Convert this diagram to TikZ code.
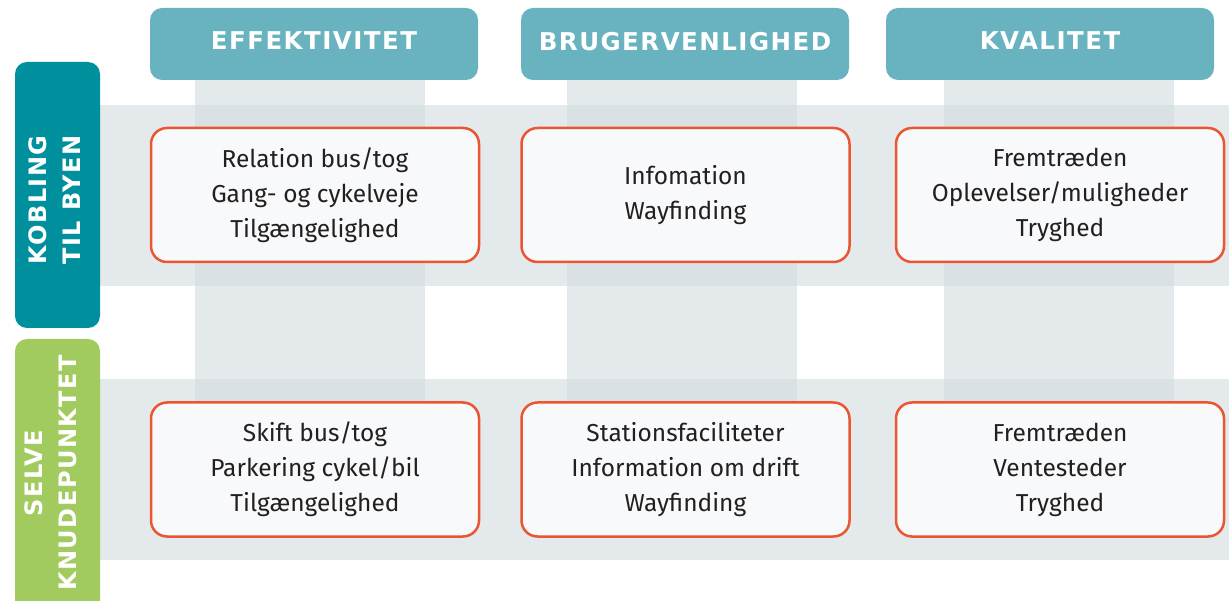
\documentclass[tikz,border=0pt]{standalone}
\usepackage{fontspec}
\setmainfont{Fira Sans}
\newfontfamily\hdrfont[LetterSpace=6]{DejaVu Sans}
\definecolor{hdr}{HTML}{69B3C0}
\definecolor{teal}{HTML}{00909D}
\definecolor{grn}{HTML}{A2CB5F}
\definecolor{band}{HTML}{D4DCE1}
\definecolor{bord}{HTML}{EA5532}
\definecolor{boxfill}{HTML}{F8F9FA}
\definecolor{txt}{HTML}{231F20}
\tikzset{
  hdrbox/.style={fill=hdr, rounded corners=12pt, minimum width=328pt, minimum height=72pt, inner sep=0pt, text depth=6pt, text=white, font=\hdrfont\bfseries\fontsize{24.5}{28}\selectfont},
  tabtext/.style={rotate=90, align=center, text=white, font=\hdrfont\bfseries\fontsize{24}{34}\selectfont},
  cellbox/.style={draw=bord, line width=2.5pt, fill=boxfill, rounded corners=16pt, minimum width=328pt, minimum height=134pt, inner sep=0pt, align=center, text=txt, font=\fontsize{24.5}{35}\selectfont},
  bandfill/.style={fill=band, fill opacity=0.62}
}
\begin{document}
\begin{tikzpicture}[x=1pt,y=-1pt]
\useasboundingbox (0,0) rectangle (1229,601);
\begin{scope}
\clip (0,0) rectangle (1229,601);
% bands
\fill[bandfill] (100,105) rectangle (1229,286);
\fill[bandfill] (100,379) rectangle (1229,560);
\fill[bandfill] (195,80) rectangle (425,420);
\fill[bandfill] (567,80) rectangle (797,420);
\fill[bandfill] (944,80) rectangle (1174,420);
% headers
\node[hdrbox] (h1) at (314,44) {EFFEKTIVITET};
\node[hdrbox] (h2) at (685,44) {BRUGERVENLIGHED};
\node[hdrbox] (h3) at (1050,44) {KVALITET};
% tabs
\fill[teal, rounded corners=12pt] (15,62) rectangle (100,328);
\fill[grn, rounded corners=12pt] (15,339) rectangle (100,615);
\node[tabtext] (t1) at (55,200) {KOBLING\\TIL BYEN};
\node[tabtext] (t2) at (51,473) {SELVE\\KNUDEPUNKTET};
% cells
\node[cellbox] (b11) at (315,195) {Relation bus/tog\\Gang- og cykelveje\\Tilgængelighed};
\node[cellbox] (b12) at (685.5,195) {Infomation\\Wayfinding};
\node[cellbox] (b13) at (1060,195) {Fremtræden\\Oplevelser/muligheder\\Tryghed};
\node[cellbox] (b21) at (315,469.5) {Skift bus/tog\\Parkering cykel/bil\\Tilgængelighed};
\node[cellbox] (b22) at (685.5,469.5) {Stationsfaciliteter\\Information om drift\\Wayfinding};
\node[cellbox] (b23) at (1060,469.5) {Fremtræden\\Ventesteder\\Tryghed};
\end{scope}
\end{tikzpicture}
\end{document}
